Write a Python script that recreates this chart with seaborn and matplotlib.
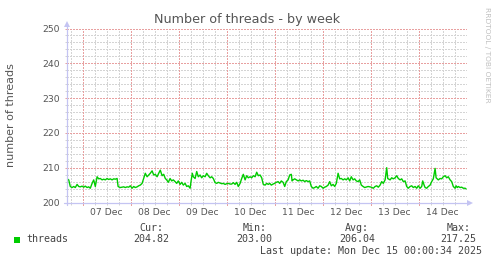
import matplotlib
matplotlib.use("Agg")
import matplotlib.pyplot as plt
import matplotlib.dates as mdates
from matplotlib.patches import Rectangle
from matplotlib.ticker import MultipleLocator, NullFormatter
import pandas as pd
import seaborn as sns

# ---------------- data ----------------
start = pd.Timestamp("2025-12-06 16:00")
end = pd.Timestamp("2025-12-15 00:00")

hours = [
    0.2, 1.0, 1.8, 2.7, 3.5, 4.3, 5.2, 6.0, 6.8, 7.7, 8.5, 9.3, 10.2, 11.0, 11.8, 12.7, 13.5, 14.3, 15.2, 16.0,
    16.8, 17.7, 18.5, 19.3, 20.2, 21.0, 21.8, 22.7, 23.5, 24.3, 25.2, 25.7, 26.0, 26.8, 27.7, 28.5, 29.3, 30.2, 31.0, 31.8,
    32.7, 33.5, 34.3, 35.2, 36.0, 36.8, 37.7, 38.5, 39.3, 40.2, 41.0, 41.8, 42.7, 43.5, 44.3, 45.2, 46.0, 46.8, 47.7, 48.5,
    49.3,
    50.0, 50.8, 51.7, 52.5, 53.3, 54.2, 55.0, 55.8, 56.7, 57.5, 58.3, 59.2, 60.0, 60.8, 61.7, 62.2, 62.8, 63.3, 64.2, 65.0,
    65.8, 66.7, 67.5, 68.3, 69.2, 70.0, 70.8, 71.7, 72.5, 73.3, 74.2, 75.0, 75.8, 76.7, 77.5, 78.3, 79.2, 80.0, 80.8, 81.7,
    82.5, 83.3, 84.2, 85.0, 85.8, 86.7, 87.5, 88.3, 89.2, 90.0, 90.8, 91.7, 92.5, 93.3, 94.2, 95.0, 95.8, 96.7, 97.5, 98.3,
    99.2, 100.0, 100.8,
    101.5, 102.3, 103.2, 104.0, 104.8, 105.7, 106.5, 107.3, 108.2, 109.0, 109.8, 110.7, 111.5, 112.3, 112.7, 113.2, 114.0,
    114.8, 115.7, 116.5, 117.3, 118.2, 119.0, 119.8, 120.7, 121.5, 122.3, 123.2, 124.0, 124.8, 125.7, 126.5, 127.3, 128.2,
    129.0, 129.8, 130.7, 131.5, 132.3, 133.2, 134.0, 134.8, 135.7, 136.5, 137.3, 138.2, 139.0, 139.8, 140.7, 141.5, 142.3,
    143.2, 144.0, 144.8, 145.7, 146.5, 147.3, 148.2, 149.0, 150.7, 152.3,
    153.3, 154.2, 155.0, 155.8, 156.7, 157.5, 158.3, 159.2, 160.0, 160.5, 160.8, 161.7, 162.5, 163.3, 164.2, 165.0, 165.8,
    166.7, 167.5, 168.3, 169.2, 170.0, 170.8, 171.7, 172.5, 173.3, 174.2, 175.0, 175.8, 176.7, 177.5, 178.0, 178.7, 179.2,
    180.0, 180.8, 181.7, 182.5, 183.3, 184.2, 184.7, 185.8, 186.7, 187.5, 188.3, 189.2, 190.0, 190.8, 191.7, 192.5, 193.3,
    194.2, 194.7, 195.3, 195.8, 196.7, 197.5, 198.3, 199.2, 199.7,
]

threads = [
    206.8, 206.5, 204.6, 204.3, 204.6, 204.3, 205.2, 204.6, 204.5, 204.7, 204.4, 204.7, 204.3, 204.5, 204.1, 205.5, 206.5,
    204.6, 207.4, 206.8, 206.9, 206.5, 206.7, 206.5, 206.9, 206.6, 206.8, 206.5, 206.8, 206.7, 206.9, 204.6, 204.5, 204.3,
    204.4, 204.5, 204.3, 204.5, 204.4, 204.8, 204.1, 204.6, 204.3, 204.5, 204.8, 205.0, 205.5, 206.9, 208.4, 207.4, 207.9,
    208.4, 209.1, 207.9, 208.1, 207.4, 208.4, 209.3, 207.7, 208.1, 206.9,
    206.5, 205.8, 206.9, 206.2, 206.5, 206.0, 205.5, 206.2, 205.2, 205.8, 205.0, 205.5, 204.6, 204.8, 204.1, 206.2, 208.4,
    207.4, 206.9, 208.9, 207.4, 207.9, 207.1, 207.7, 207.4, 208.4, 207.7, 207.1, 207.4, 206.9, 205.7, 205.5, 205.8, 205.6,
    205.4, 205.5, 205.2, 205.4, 205.5, 205.3, 205.3, 205.7, 205.2, 205.8, 204.6, 205.5, 206.9, 208.1, 206.5, 207.7, 207.1,
    207.4, 207.1, 207.7, 207.4, 208.7, 207.7, 207.9, 207.1, 205.2, 205.0, 205.5, 205.2,
    205.5, 205.0, 205.3, 205.5, 205.8, 206.0, 205.5, 206.2, 205.8, 204.6, 206.0, 206.5, 207.9, 208.1, 206.2, 206.5, 206.8,
    206.5, 206.2, 206.5, 206.2, 206.4, 206.0, 206.3, 206.0, 206.2, 204.6, 204.1, 204.3, 204.6, 204.1, 204.8, 204.6, 204.1,
    204.4, 204.6, 205.0, 206.0, 204.8, 205.2, 204.6, 205.5, 208.4, 206.8, 206.9, 206.5, 206.8, 206.5, 207.1, 206.2, 207.4,
    206.5, 206.8, 206.2, 206.0, 206.5, 205.0, 204.6, 204.3, 204.6, 204.4,
    204.1, 204.6, 204.8, 204.4, 205.0, 206.0, 205.5, 206.5, 210.0, 206.9, 206.8, 206.5, 207.1, 206.8, 207.1, 207.7, 206.9,
    206.5, 206.8, 206.0, 206.2, 204.6, 204.1, 204.6, 204.8, 204.3, 204.6, 204.1, 204.8, 204.1, 204.6, 206.2, 205.0, 204.3,
    204.1, 204.6, 205.0, 206.0, 206.8, 209.8, 207.1, 206.5, 206.9, 206.8, 207.4, 207.7, 207.1, 207.4, 206.5, 206.0, 204.6,
    204.1, 204.8, 204.3, 204.6, 204.3, 204.4, 204.1, 204.1, 203.9,
]

stat_headers = ["Cur:", "Min:", "Avg:", "Max:"]
stat_values = ["204.82", "203.00", "206.04", "217.25"]
series_name = "threads"
title = "Number of threads - by week"
ylabel = "number of threads"
last_update = "Last update: Mon Dec 15 00:00:34 2025"
watermark = "RRDTOOL / TOBI OETIKER"

df = pd.DataFrame({"time": start + pd.to_timedelta(hours, unit="h"), "threads": threads})

# ---------------- style ----------------
sns.set_theme(style="white")
plt.rcParams["font.family"] = ["DejaVu Sans"]

W, H = 497, 264
fig = plt.figure(figsize=(W / 100, H / 100), dpi=100)
fig.patch.set_facecolor("white")

x0, x1 = 66.7, 466.7
ytop, ybot = 28.5, 202.5
ax = fig.add_axes([x0 / W, 1 - ybot / H, (x1 - x0) / W, (ybot - ytop) / H])
ax.set_facecolor("white")

GREEN = "#00CC00"
RED = "#E8A0A0"
GRAY = "#D4D4D4"
AXIS = "#C4C4F2"
TXT = "#555555"
DOT = (0, (1.3889, 1.3889))
GRID_KW = dict(linestyle=DOT, linewidth=1.0, antialiased=False, snap=True)

sns.lineplot(data=df, x="time", y="threads", color=GREEN, linewidth=1.0, ax=ax, zorder=5)

ax.set_xlim(start, end)
ax.set_ylim(200, 250)

# Y axis: major every 10 (red grid), minor every 2 (gray grid)
ax.yaxis.set_major_locator(MultipleLocator(10))
ax.yaxis.set_minor_locator(MultipleLocator(2))
ax.grid(which="major", axis="y", color=RED, **GRID_KW)
ax.grid(which="minor", axis="y", color=GRAY, **GRID_KW)

# X axis: labels at noon, minor at 06h/18h (gray grid), midnights red
ax.xaxis.set_major_locator(mdates.HourLocator(byhour=[12]))
ax.xaxis.set_major_formatter(mdates.DateFormatter("%d %b"))
ax.xaxis.set_minor_locator(mdates.HourLocator(byhour=[6, 18]))
ax.xaxis.set_minor_formatter(NullFormatter())
ax.grid(which="both", axis="x", color=GRAY, **GRID_KW)
ax.set_axisbelow(True)
for d in pd.date_range(start.ceil("D"), end - pd.Timedelta(hours=1), freq="D"):
    ax.axvline(d, color=RED, zorder=1, **GRID_KW)
    ax.axvline(d, ymin=-0.012, ymax=0, color=RED, linewidth=0.72, antialiased=False,
               clip_on=False, zorder=1)

ax.tick_params(axis="y", which="major", direction="out", length=1.6, width=0.72, color=RED,
               labelsize=6.7, labelcolor=TXT, pad=3.6, left=True)
ax.tick_params(axis="y", which="minor", direction="out", length=1.6, width=0.72, color=GRAY, left=True)
ax.tick_params(axis="x", which="major", direction="out", length=1.6, width=0.72, color=GRAY,
               labelsize=6.7, labelcolor=TXT, pad=2.2, bottom=True)
ax.tick_params(axis="x", which="minor", direction="out", length=1.6, width=0.72, color=GRAY, bottom=True)

ax.set_xlabel("")
ax.set_ylabel("")
for s in ax.spines.values():
    s.set_visible(False)

# axes lines with arrows
ax.plot([-0.008, 1.008], [0, 0], transform=ax.transAxes, color=AXIS, lw=0.9, clip_on=False, zorder=6)
ax.plot([0, 0], [-0.012, 1.02], transform=ax.transAxes, color=AXIS, lw=0.9, clip_on=False, zorder=6)
ax.plot([1.0075], [0], transform=ax.transAxes, marker=">", color=AXIS, markersize=4.2,
        markeredgewidth=0, clip_on=False, zorder=6)
ax.plot([0], [1.027], transform=ax.transAxes, marker="^", color=AXIS, markersize=4.2,
        markeredgewidth=0, clip_on=False, zorder=6)

# texts
fig.text(247.5 / W, 1 - 20 / H, title, ha="center", va="center", fontsize=9.2, color=TXT)
fig.text(11 / W, 1 - 115 / H, ylabel, ha="center", va="center", rotation=90, fontsize=8, color=TXT)
fig.text(487.5 / W, 1 - 55 / H, watermark, ha="center", va="center", rotation=270,
         fontsize=5.4, color="#C0C0C0")

MONO = "DejaVu Sans Mono"
fig.patches.append(Rectangle((14 / W, 1 - 242.7 / H), 6 / W, 6 / H, transform=fig.transFigure,
                             facecolor=GREEN, edgecolor="none"))
fig.text(26.7 / W, 1 - 239.5 / H, series_name, ha="left", va="center", fontsize=7.2,
         family=MONO, color="#444444")
centers = [151.5, 254.5, 357.0, 458.6]
for cx, hd, val in zip(centers, stat_headers, stat_values):
    fig.text(cx / W, 1 - 228.3 / H, hd, ha="center", va="center", fontsize=7.2, family=MONO, color="#444444")
    fig.text(cx / W, 1 - 239.5 / H, val, ha="center", va="center", fontsize=7.2, family=MONO, color="#444444")
fig.text(482.3 / W, 1 - 250.8 / H, last_update, ha="right", va="center", fontsize=7.2,
         family=MONO, color="#444444")

fig.savefig("out.png", dpi=100, facecolor="white")
